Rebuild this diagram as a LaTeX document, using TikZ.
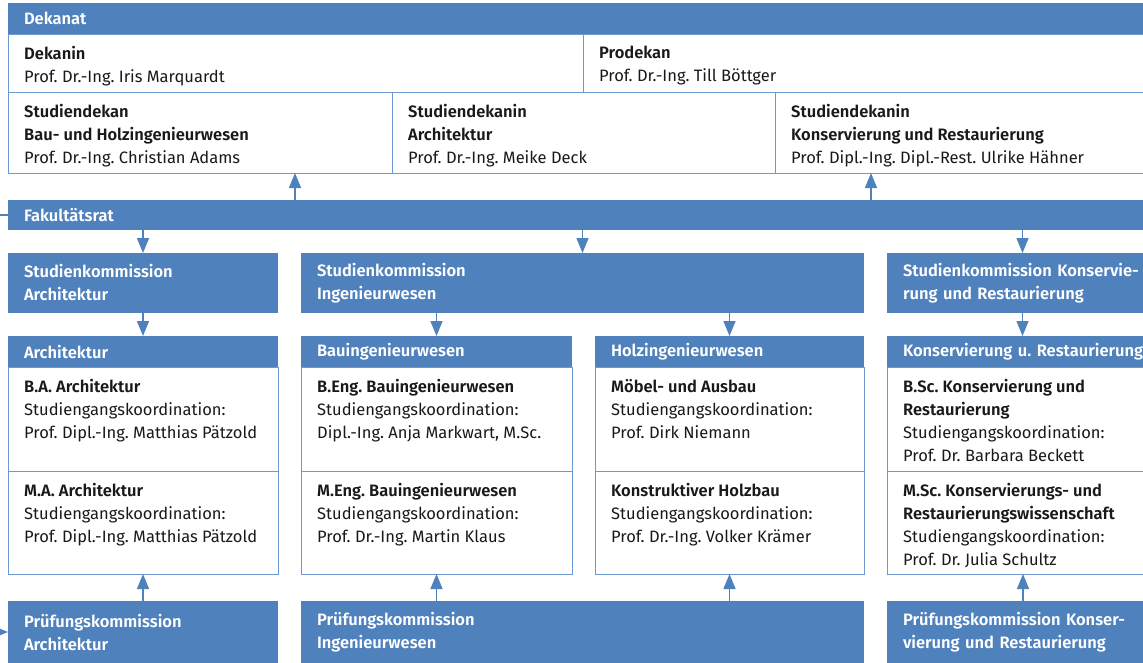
\documentclass[tikz,border=0pt]{standalone}
\usepackage{fontspec}
\setmainfont{Fira Sans}[BoldFont={Fira Sans SemiBold}]
\usetikzlibrary{arrows.meta,calc}
\frenchspacing
\definecolor{hblue}{RGB}{79,129,189}
\definecolor{lblue}{RGB}{110,152,208}
\definecolor{ink}{RGB}{25,25,25}
\tikzset{
 hdr/.style={fill=hblue, text=white, font=\fontsize{16.5}{23}\selectfont\bfseries, anchor=north west, align=left, inner xsep=16pt, inner ysep=0pt, outer sep=0pt},
 wbox/.style={draw=lblue, line width=1pt, fill=white, anchor=north west, inner sep=0pt, outer sep=0pt},
 txt/.style={anchor=north west, align=left, inner sep=0pt, font=\fontsize{16.5}{23}\selectfont, text=ink},
 arr/.style={draw=hblue, line width=1.5pt, -{Triangle[width=12pt,length=15pt]}},
 lin/.style={draw=hblue, line width=1.5pt},
}
\begin{document}
\frenchspacing
\begin{tikzpicture}[x=1pt,y=-1pt]
\path[use as bounding box] (0,0) rectangle (1143,662);
\clip (0,0) rectangle (1143,662);
% Dekanat
\node[hdr, text width=1120pt, minimum height=31pt] (dek) at (8,3) {Dekanat};
\node[wbox, minimum width=575pt, minimum height=58pt] (dekanin) at (8,34) {};
\node[wbox, minimum width=577pt, minimum height=58pt] (prodekan) at (583,34) {};
\node[wbox, minimum width=384pt, minimum height=81pt] (sd1) at (8,92) {};
\node[wbox, minimum width=383pt, minimum height=81pt] (sd2) at (392,92) {};
\node[wbox, minimum width=385pt, minimum height=81pt] (sd3) at (775,92) {};
\node[txt] (tdekanin) at ($(dekanin.north west)+(16,12)$) {\textbf{Dekanin}\\Prof. Dr.-Ing. Iris Marquardt};
\node[txt] (tprodekan) at ($(prodekan.north west)+(16,12)$) {\textbf{Prodekan}\\Prof. Dr.-Ing. Till Böttger};
\node[txt] (tsd1) at ($(sd1.north west)+(16,12)$) {\textbf{Studiendekan}\\\textbf{Bau- und Holzingenieurwesen}\\Prof. Dr.-Ing. Christian Adams};
\node[txt] (tsd2) at ($(sd2.north west)+(16,12)$) {\textbf{Studiendekanin}\\\textbf{Architektur}\\Prof. Dr.-Ing. Meike Deck};
\node[txt] (tsd3) at ($(sd3.north west)+(16,12)$) {\textbf{Studiendekanin}\\\textbf{Konservierung und Restaurierung}\\Prof. Dipl.-Ing. Dipl.-Rest. Ulrike Hähner};
% Fakultaetsrat
\node[hdr, text width=1120pt, minimum height=30pt] (fak) at (8,200) {Fakultätsrat};
% Studienkommissionen
\node[hdr, text width=238pt, minimum height=60pt] (skarch) at (8,253) {Studienkommission\\Architektur};
\node[hdr, text width=531pt, minimum height=60pt] (sking) at (301,253) {Studienkommission\\Ingenieurwesen};
\node[hdr, text width=239pt, minimum height=60pt] (skkons) at (887,253) {Studienkommission Konservie-\\rung und Restaurierung};
% Studiengaenge
\node[hdr, text width=238pt, minimum height=31pt] (harch) at (8,336) {Architektur};
\node[hdr, text width=239pt, minimum height=31pt] (hbau) at (301,336) {Bauingenieurwesen};
\node[hdr, text width=237pt, minimum height=31pt] (hholz) at (595,336) {Holzingenieurwesen};
\node[hdr, text width=300pt, minimum height=31pt] (hkons) at (887,336) {Konservierung u. Restaurierung};
\node[wbox, minimum width=270pt, minimum height=104pt] (arch1) at (8,367) {};
\node[wbox, minimum width=270pt, minimum height=103pt] (arch2) at (8,471) {};
\node[wbox, minimum width=271pt, minimum height=104pt] (bau1) at (301,367) {};
\node[wbox, minimum width=271pt, minimum height=103pt] (bau2) at (301,471) {};
\node[wbox, minimum width=269pt, minimum height=104pt] (holz1) at (595,367) {};
\node[wbox, minimum width=269pt, minimum height=103pt] (holz2) at (595,471) {};
\node[wbox, minimum width=272pt, minimum height=104pt] (kons1) at (887,367) {};
\node[wbox, minimum width=272pt, minimum height=103pt] (kons2) at (887,471) {};
\node[txt] (tarch1) at ($(arch1.north west)+(16,12)$) {\textbf{B.A. Architektur}\\Studiengangskoordination:\\Prof. Dipl.-Ing. Matthias Pätzold};
\node[txt] (tarch2) at ($(arch2.north west)+(16,12)$) {\textbf{M.A. Architektur}\\Studiengangskoordination:\\Prof. Dipl.-Ing. Matthias Pätzold};
\node[txt] (tbau1) at ($(bau1.north west)+(16,12)$) {\textbf{B.Eng. Bauingenieurwesen}\\Studiengangskoordination:\\Dipl.-Ing. Anja Markwart, M.Sc.};
\node[txt] (tbau2) at ($(bau2.north west)+(16,12)$) {\textbf{M.Eng. Bauingenieurwesen}\\Studiengangskoordination:\\Prof. Dr.-Ing. Martin Klaus};
\node[txt] (tholz1) at ($(holz1.north west)+(16,12)$) {\textbf{Möbel- und Ausbau}\\Studiengangskoordination:\\Prof. Dirk Niemann};
\node[txt] (tholz2) at ($(holz2.north west)+(16,12)$) {\textbf{Konstruktiver Holzbau}\\Studiengangskoordination:\\Prof. Dr.-Ing. Volker Krämer};
\node[txt] (tkons1) at ($(kons1.north west)+(16,12)$) {\textbf{B.Sc. Konservierung und}\\\textbf{Restaurierung}\\Studiengangskoordination:\\Prof. Dr. Barbara Beckett};
\node[txt] (tkons2) at ($(kons2.north west)+(16,12)$) {\textbf{M.Sc. Konservierungs- und}\\\textbf{Restaurierungswissenschaft}\\Studiengangskoordination:\\Prof. Dr. Julia Schultz};
% Pruefungskommissionen
\node[hdr, text width=238pt, minimum height=62pt] (parch) at (8,601) {Prüfungskommission\\Architektur};
\node[hdr, text width=531pt, minimum height=62pt] (ping) at (301,601) {Prüfungskommission\\Ingenieurwesen};
\node[hdr, text width=240pt, minimum height=62pt] (pkons) at (887,601) {Prüfungskommission Konser-\\vierung und Restaurierung};
% connectors
\coordinate (c295) at (295,0);
\coordinate (c871) at (871,0);
\coordinate (lf) at (-5,215);
\coordinate (lp) at (-20,632);
\draw[lin] (lf) -- (fak.west);
\draw[arr] (lp) -- (parch.west);
\draw[arr] (fak.north -| c295) -- (sd1.south -| c295);
\draw[arr] (fak.north -| c871) -- (sd3.south -| c871);
\draw[arr] (fak.south -| skarch.north) -- (skarch.north);
\draw[arr] (fak.south -| sking.north) -- (sking.north);
\draw[arr] (fak.south -| skkons.north) -- (skkons.north);
\draw[arr] (skarch.south -| harch.north) -- (harch.north);
\draw[arr] (sking.south -| hbau.north) -- (hbau.north);
\draw[arr] (sking.south -| hholz.north) -- (hholz.north);
\draw[arr] (skkons.south) -- (skkons.south |- hkons.north);
\draw[arr] (parch.north -| arch2.south) -- (arch2.south);
\draw[arr] (ping.north -| bau2.south) -- (bau2.south);
\draw[arr] (ping.north -| holz2.south) -- (holz2.south);
\draw[arr] (pkons.north -| kons2.south) -- (kons2.south);
\end{tikzpicture}
\end{document}
